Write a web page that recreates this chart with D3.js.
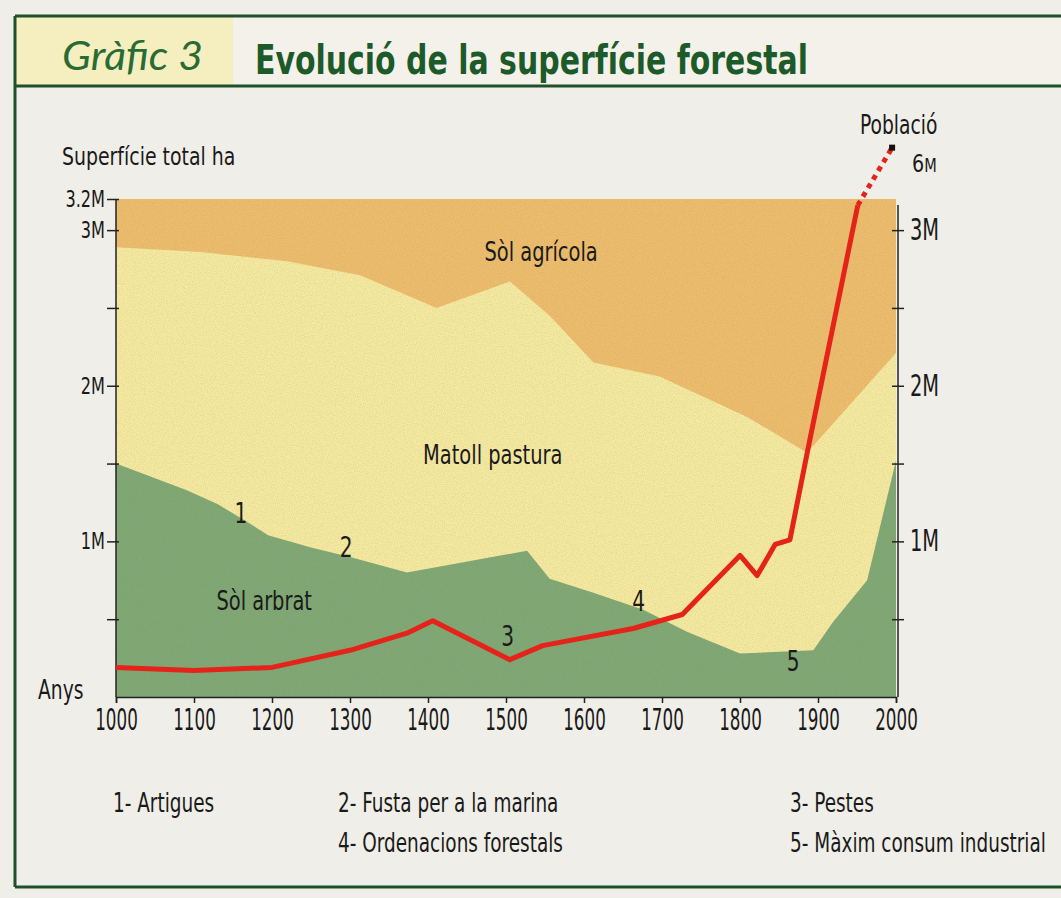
<!DOCTYPE html>
<html>
<head>
<meta charset="utf-8">
<script src="https://cdn.jsdelivr.net/npm/d3@7"></script>
<style>
  body { margin: 0; background: #f0eee8; }
  svg { display: block; }
  text { font-family: "Liberation Sans Narrow", "DejaVu Sans Condensed", sans-serif; fill: #1a1a1a; }
</style>
</head>
<body>
<svg width="1061" height="898"></svg>
<script>
// anys i superfície (milions d'hectàrees) llegits del gràfic
const anysArbrat = [1000, 1090, 1130, 1170, 1195, 1250, 1300, 1373, 1527, 1556, 1612, 1676, 1732, 1800, 1894, 1919, 1963, 2000];
const solArbrat  = [1.50, 1.33, 1.24, 1.12, 1.04, 0.96, 0.90, 0.80, 0.94, 0.76, 0.67, 0.56, 0.42, 0.28, 0.30, 0.48, 0.75, 1.52];

// límit superior del matoll (arbrat + matoll), per sobre hi ha el sòl agrícola
const anysMatoll = [1000, 1108, 1219, 1313, 1411, 1505, 1556, 1612, 1697, 1809, 1886, 2000];
const limitMatoll = [2.89, 2.86, 2.80, 2.71, 2.50, 2.67, 2.45, 2.15, 2.06, 1.80, 1.57, 2.21];

const superficieTotal = 3.2;

// població (milions d'habitants)
const anysPoblacio = [1000, 1100, 1200, 1300, 1373, 1406, 1505, 1547, 1663, 1726, 1800, 1822, 1845, 1864, 1887, 1951];
const poblacio     = [0.19, 0.17, 0.19, 0.30, 0.41, 0.49, 0.24, 0.33, 0.44, 0.53, 0.91, 0.78, 0.98, 1.01, 1.59, 3.16];
const anysPoblacioTall = [1951, 1995];
const poblacioTall     = [3.16, 3.53];

const ticksAnys = [1000, 1100, 1200, 1300, 1400, 1500, 1600, 1700, 1800, 1900, 2000];
const ticksEsq = [0.5, 1, 1.5, 2, 2.5, 3, 3.2];
const etiquetesEsq = {1: "1M", 2: "2M", 3: "3M", 3.2: "3.2M"};
const ticksDreta = [0.5, 1, 1.5, 2, 2.5, 3];
const etiquetesDreta = {1: "1M", 2: "2M", 3: "3M"};

const capes = ["Sòl agrícola", "Matoll pastura", "Sòl arbrat"];
const fets = [
  {n: "1", any: 1160, v: 1.12},
  {n: "2", any: 1295, v: 0.90},
  {n: "3", any: 1502, v: 0.33},
  {n: "4", any: 1670, v: 0.55},
  {n: "5", any: 1868, v: 0.17}
];
const llegenda = ["1- Artigues", "2- Fusta per a la marina", "3- Pestes", "4- Ordenacions forestals", "5- Màxim consum industrial"];

const svg = d3.select("svg");
const verd = "#1f4f2b";

// la lletra de l'original és molt estreta: comprimim en horitzontal
function estreta(sel, f) {
  sel.each(function () {
    const w = this.getComputedTextLength();
    d3.select(this).attr("textLength", w * f).attr("lengthAdjust", "spacingAndGlyphs");
  });
}

// textura de trama
const defs = svg.append("defs");
const filtre = defs.append("filter").attr("id", "trama").attr("x", 0).attr("y", 0).attr("width", 1).attr("height", 1);
filtre.append("feTurbulence").attr("type", "fractalNoise").attr("baseFrequency", 0.9).attr("numOctaves", 2).attr("seed", 3);
filtre.append("feColorMatrix").attr("type", "matrix")
  .attr("values", "0 0 0 0 0.2  0 0 0 0 0.2  0 0 0 0 0.15  0 0 0 -1.6 1.0");

// marc i capçalera
svg.append("rect").attr("x", 15).attr("y", 16).attr("width", 218).attr("height", 70).attr("fill", "#f5efc0");
svg.append("rect").attr("x", 233).attr("y", 16).attr("width", 828).attr("height", 70).attr("fill", "#f3f1ea");
[[15, 16, 1061, 16], [15, 86, 1061, 86], [15, 887, 1061, 887], [15, 16, 15, 887]].forEach(l => {
  svg.append("line").attr("x1", l[0]).attr("y1", l[1]).attr("x2", l[2]).attr("y2", l[3])
    .attr("stroke", verd).attr("stroke-width", 3);
});
svg.append("text").attr("x", 62).attr("y", 70).text("Gràfic 3")
  .style("font-family", "Lato, 'Noto Sans', sans-serif").style("font-style", "italic")
  .style("font-size", "40px").style("fill", "#2a6a35")
  .attr("textLength", 141).attr("lengthAdjust", "spacingAndGlyphs");
svg.append("text").attr("x", 255).attr("y", 74).text("Evolució de la superfície forestal")
  .style("font-weight", "bold").style("font-size", "40px").style("fill", "#1d5a2a")
  .attr("textLength", 553).attr("lengthAdjust", "spacingAndGlyphs");

const x = d3.scaleLinear().domain([1000, 2000]).range([116, 896]);
const y = d3.scaleLinear().domain([0, superficieTotal]).range([697, 199]);

const zip = (a, b) => a.map((d, i) => [d, b[i]]);

// capes
const area = d3.area().x(d => x(d[0])).y0(y(0)).y1(d => y(d[1]));
svg.append("path").attr("d", area([[1000, superficieTotal], [2000, superficieTotal]])).attr("fill", "#eebd6c");
svg.append("path").attr("d", area(zip(anysMatoll, limitMatoll))).attr("fill", "#f6eaa0");
svg.append("path").attr("d", area(zip(anysArbrat, solArbrat))).attr("fill", "#80a874");
svg.append("rect").attr("x", x(1000)).attr("y", y(superficieTotal))
  .attr("width", x(2000) - x(1000)).attr("height", y(0) - y(superficieTotal))
  .attr("filter", "url(#trama)").attr("opacity", 0.2);

// eixos
const eixEsq = svg.append("g").attr("transform", `translate(${x(1000)},0)`)
  .call(d3.axisLeft(y).tickValues(ticksEsq).tickSize(9).tickFormat(d => etiquetesEsq[d] || ""));
eixEsq.select(".domain").attr("d", `M0,${y(superficieTotal)}V${y(0)}`);
eixEsq.selectAll(".tick line").attr("x1", 3);
eixEsq.selectAll(".tick text").attr("x", -11).style("font-size", "23px");

const eixDreta = svg.append("g").attr("transform", `translate(${x(2000) + 2},0)`)
  .call(d3.axisRight(y).tickValues(ticksDreta).tickSize(6).tickFormat(d => etiquetesDreta[d] || ""));
eixDreta.select(".domain").attr("d", `M0,${y(superficieTotal) + 6}V${y(0)}`);
eixDreta.selectAll(".tick line").attr("x1", -6);
eixDreta.selectAll(".tick text").attr("x", 12).style("font-size", "30px");

const eixX = svg.append("g").attr("transform", `translate(0,${y(0)})`)
  .call(d3.axisBottom(x).tickValues(ticksAnys).tickSize(6).tickFormat(d3.format("d")));
eixX.selectAll(".tick text").attr("y", 11).style("font-size", "31px");

[eixEsq, eixDreta, eixX].forEach(g => {
  g.selectAll("path, line").attr("stroke", "#222").attr("stroke-width", 1.5);
  g.selectAll("text").style("fill", "#1a1a1a").style("font-family", "'Liberation Sans Narrow', 'DejaVu Sans Condensed', sans-serif");
});
estreta(eixEsq.selectAll(".tick text"), 0.78);
estreta(eixDreta.selectAll(".tick text"), 0.72);
estreta(eixX.selectAll(".tick text"), 0.6);

// línia de població
const linia = d3.line().x(d => x(d[0])).y(d => y(d[1]));
svg.append("path").attr("d", linia(zip(anysPoblacio, poblacio)))
  .attr("fill", "none").attr("stroke", "#e4231b").attr("stroke-width", 5).attr("stroke-linejoin", "round");
svg.append("path").attr("d", linia(zip(anysPoblacioTall, poblacioTall)))
  .attr("fill", "none").attr("stroke", "#e4231b").attr("stroke-width", 5).attr("stroke-dasharray", "5,5");
const fi = anysPoblacioTall.length - 1;
svg.append("rect").attr("x", x(anysPoblacioTall[fi]) - 3).attr("y", y(poblacioTall[fi]) - 3)
  .attr("width", 6).attr("height", 6).attr("fill", "#111");

// textos dels eixos
estreta(svg.append("text").attr("x", 62).attr("y", 165).text("Superfície total ha").style("font-size", "25px"), 0.84);
estreta(svg.append("text").attr("x", 38).attr("y", 699).text("Anys").style("font-size", "27px"), 0.77);
estreta(svg.append("text").attr("x", 860).attr("y", 134).text("Població").style("font-size", "26px"), 0.8);
const sis = svg.append("text").attr("x", 912).attr("y", 172).style("font-size", "25px");
sis.append("tspan").text("6");
sis.append("tspan").text("M").style("font-size", "19px");
estreta(sis, 0.85);

// etiquetes de les capes
const posCapes = [[1545, 2.80], [1483, 1.50], [1190, 0.56]];
estreta(svg.selectAll(".capa").data(capes).join("text").attr("class", "capa")
  .attr("x", (d, i) => x(posCapes[i][0])).attr("y", (d, i) => y(posCapes[i][1]))
  .attr("text-anchor", "middle").style("font-size", "27px").text(d => d), 0.8);

estreta(svg.selectAll(".fet").data(fets).join("text").attr("class", "fet")
  .attr("x", d => x(d.any)).attr("y", d => y(d.v))
  .attr("text-anchor", "middle").style("font-size", "28px").text(d => d.n), 0.8);

// llegenda (comprimida amb una transformació)
const posLlegenda = [[113, 812], [338, 812], [790, 812], [338, 852], [790, 852]];
svg.selectAll(".llegenda").data(llegenda).join("text").attr("class", "llegenda")
  .attr("transform", (d, i) => `translate(${posLlegenda[i][0]},${posLlegenda[i][1]}) scale(0.76,1)`)
  .style("font-size", "27px").text(d => d);
</script>
</body>
</html>
